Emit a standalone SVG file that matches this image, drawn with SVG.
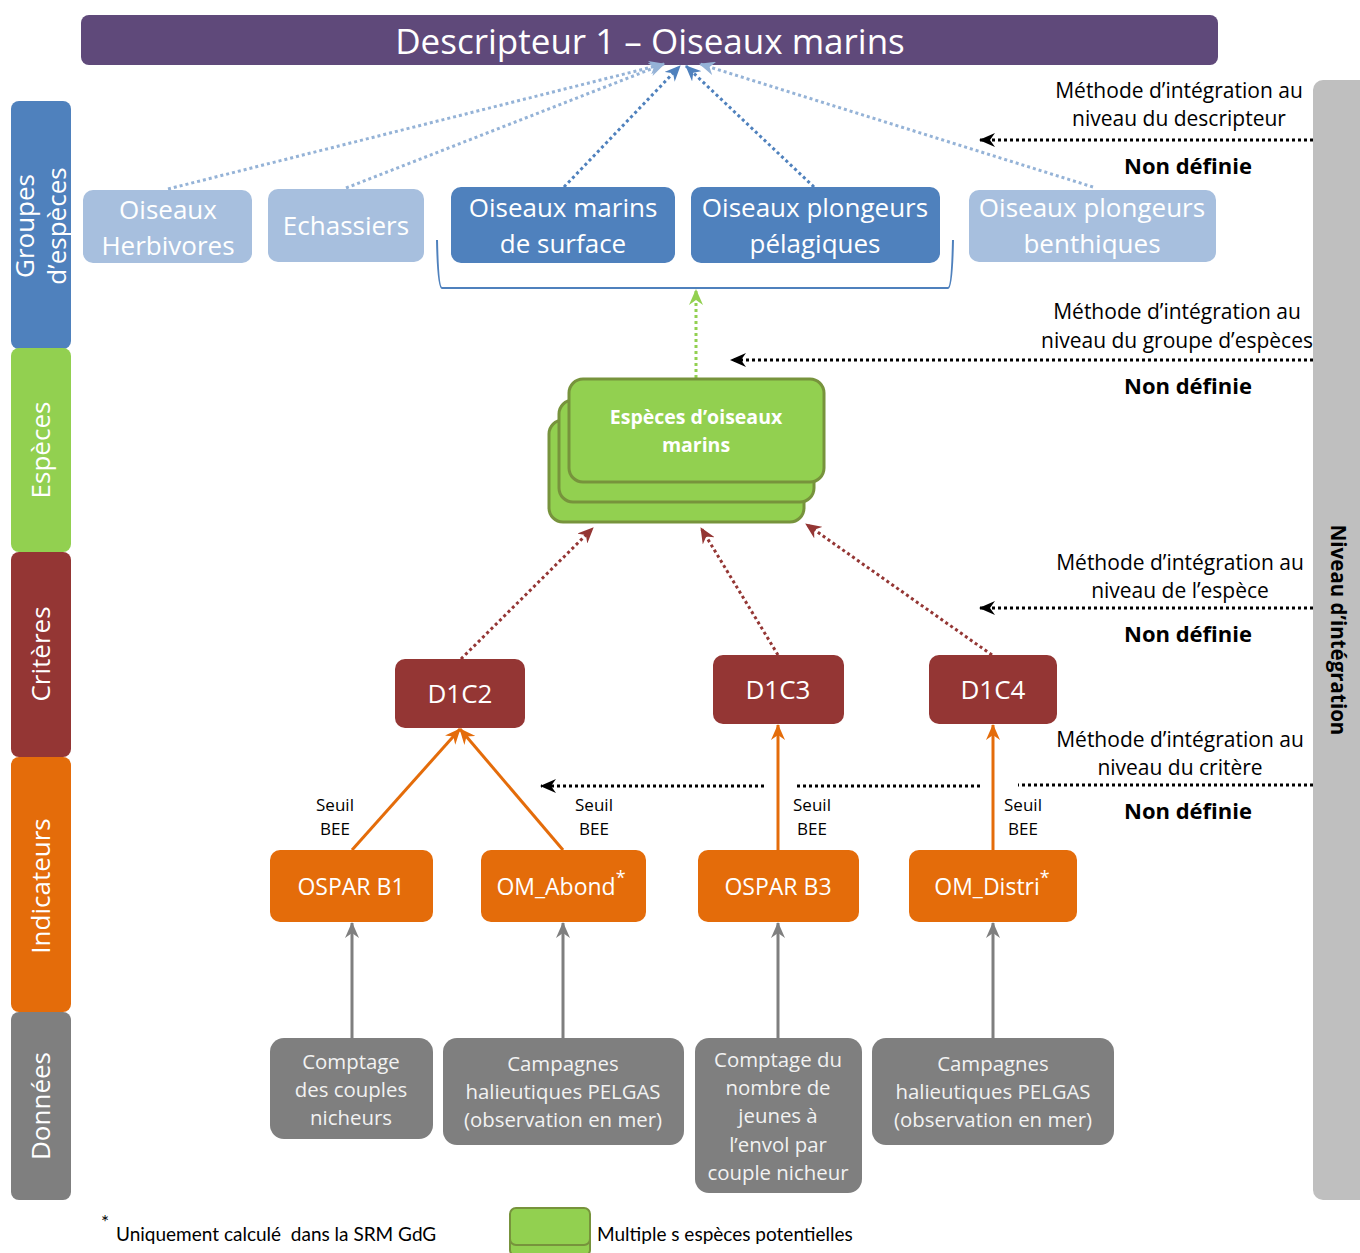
<svg xmlns="http://www.w3.org/2000/svg" width="1360" height="1253" viewBox="0 0 1360 1253">
<style>
text{font-family:"Open Sans","Noto Sans",sans-serif}
.w{fill:#fff}
.k{fill:#000}
.mid{text-anchor:middle}
.bar{font-size:26px;fill:#fff;text-anchor:middle}
.grp{font-size:26px;fill:#fff;text-anchor:middle}
.meth{font-size:21px;fill:#000;text-anchor:middle}
.nd{font-size:22px;font-weight:bold;fill:#000;text-anchor:middle}
.crit{font-size:26px;fill:#fff;text-anchor:middle}
.ind{font-size:23px;fill:#fff;text-anchor:middle}
.dat{font-size:20.4px;fill:#f2f2f2;text-anchor:middle}
.seuil{font-size:17px;fill:#000;text-anchor:middle}
.lg{font-family:Lato,"Open Sans",sans-serif;font-size:19px;fill:#000;white-space:pre}
.dot{fill:none;stroke-width:3;stroke-dasharray:3 3}
.bk{fill:none;stroke:#000;stroke-width:3;stroke-dasharray:3 3}
.sol{fill:none;stroke-width:3}
</style>
<defs>
<marker id="mLb" markerUnits="userSpaceOnUse" markerWidth="16" markerHeight="14" refX="15" refY="7" orient="auto"><path d="M0,0 L16,7 L0,14 L5,7 z" fill="#95B3D7"/></marker>
<marker id="mB" markerUnits="userSpaceOnUse" markerWidth="16" markerHeight="14" refX="15" refY="7" orient="auto"><path d="M0,0 L16,7 L0,14 L5,7 z" fill="#4F81BD"/></marker>
<marker id="mG" markerUnits="userSpaceOnUse" markerWidth="16" markerHeight="14" refX="15" refY="7" orient="auto"><path d="M0,0 L16,7 L0,14 L5,7 z" fill="#92D050"/></marker>
<marker id="mR" markerUnits="userSpaceOnUse" markerWidth="16" markerHeight="14" refX="15" refY="7" orient="auto"><path d="M0,0 L16,7 L0,14 L5,7 z" fill="#943634"/></marker>
<marker id="mO" markerUnits="userSpaceOnUse" markerWidth="16" markerHeight="14" refX="15" refY="7" orient="auto"><path d="M0,0 L16,7 L0,14 L5,7 z" fill="#E46C0A"/></marker>
<marker id="mGr" markerUnits="userSpaceOnUse" markerWidth="16" markerHeight="14" refX="15" refY="7" orient="auto"><path d="M0,0 L16,7 L0,14 L5,7 z" fill="#7F7F7F"/></marker>
<marker id="mK" markerUnits="userSpaceOnUse" markerWidth="16" markerHeight="14" refX="15" refY="7" orient="auto"><path d="M0,0 L16,7 L0,14 L5,7 z" fill="#000"/></marker>
</defs>

<!-- Title -->
<g id="title">
<rect x="81" y="15" width="1137" height="50" rx="8" fill="#5F497A"/>
<text x="650" y="54" class="w mid" font-size="35">Descripteur 1 – Oiseaux marins</text>
</g>

<!-- Left level bars -->
<g id="bar-groupes">
<rect x="11" y="101" width="60" height="248" rx="8" fill="#4F81BD"/>
<text class="bar" transform="translate(34,226) rotate(-90)">Groupes</text>
<text class="bar" transform="translate(66,226) rotate(-90)">d’espèces</text>
</g>
<g id="bar-especes">
<rect x="11" y="348" width="60" height="204" rx="8" fill="#92D050"/>
<text class="bar" transform="translate(50,450) rotate(-90)">Espèces</text>
</g>
<g id="bar-criteres">
<rect x="11" y="552" width="60" height="205" rx="8" fill="#943634"/>
<text class="bar" transform="translate(50,654) rotate(-90)">Critères</text>
</g>
<g id="bar-indicateurs">
<rect x="11" y="757" width="60" height="255" rx="8" fill="#E46C0A"/>
<text class="bar" transform="translate(50,886) rotate(-90)">Indicateurs</text>
</g>
<g id="bar-donnees">
<rect x="11" y="1012" width="60" height="188" rx="8" fill="#7F7F7F"/>
<text class="bar" transform="translate(50,1106) rotate(-90)">Données</text>
</g>

<!-- Right bar -->
<g id="bar-niveau">
<rect x="1313" y="80" width="60" height="1120" rx="10" fill="#BFBFBF"/>
<text transform="translate(1331,630) rotate(90)" font-family="Liberation Sans, Arial, sans-serif" font-size="20.5" font-weight="bold" text-anchor="middle" fill="#000">Niveau d’intégration</text>
</g>

<!-- Connectors -->
<g id="connectors">
<path class="dot" stroke="#95B3D7" d="M168,189 L664,64" marker-end="url(#mLb)"/>
<path class="dot" stroke="#95B3D7" d="M346,188 L664,64" marker-end="url(#mLb)"/>
<path class="dot" stroke="#4F81BD" d="M564,187 L680,66" marker-end="url(#mB)"/>
<path class="dot" stroke="#4F81BD" d="M814,187 L686,66" marker-end="url(#mB)"/>
<path class="dot" stroke="#95B3D7" d="M1093,187 L700,64" marker-end="url(#mLb)"/>
<path d="M437,240 Q438,288 442,288 L948,288 Q952,288 953,240" fill="none" stroke="#4F81BD" stroke-width="2"/>
<path class="dot" stroke="#92D050" d="M696,378 L696,290" marker-end="url(#mG)"/>
<path class="dot" stroke="#943634" d="M461,659 L593,528" marker-end="url(#mR)"/>
<path class="dot" stroke="#943634" d="M778,655 L701,528" marker-end="url(#mR)"/>
<path class="dot" stroke="#943634" d="M992,655 L806,524" marker-end="url(#mR)"/>
<path class="sol" stroke="#E46C0A" d="M352,850 L460,729" marker-end="url(#mO)"/>
<path class="sol" stroke="#E46C0A" d="M563,850 L460,729" marker-end="url(#mO)"/>
<path class="sol" stroke="#E46C0A" d="M778,850 L778,725" marker-end="url(#mO)"/>
<path class="sol" stroke="#E46C0A" d="M993,850 L993,725" marker-end="url(#mO)"/>
<path class="sol" stroke="#7F7F7F" d="M352,1038 L352,923" marker-end="url(#mGr)"/>
<path class="sol" stroke="#7F7F7F" d="M563,1038 L563,923" marker-end="url(#mGr)"/>
<path class="sol" stroke="#7F7F7F" d="M778,1038 L778,923" marker-end="url(#mGr)"/>
<path class="sol" stroke="#7F7F7F" d="M993,1038 L993,923" marker-end="url(#mGr)"/>
<path class="bk" d="M1313,140 L980,140" marker-end="url(#mK)"/>
<path class="bk" d="M1313,360 L731,360" marker-end="url(#mK)"/>
<path class="bk" d="M1313,608 L980,608" marker-end="url(#mK)"/>
<path class="bk" d="M1313,785 L1018,785"/>
<path class="bk" d="M980,786 L796,786"/>
<path class="bk" d="M764,786 L541,786" marker-end="url(#mK)"/>
</g>

<!-- Integration method texts -->
<g id="methode-descripteur">
<text class="meth" x="1179" y="98">Méthode d’intégration au</text>
<text class="meth" x="1179" y="126">niveau du descripteur</text>
<text class="nd" x="1188" y="174">Non définie</text>
</g>
<g id="methode-groupe">
<text class="meth" x="1177" y="319">Méthode d’intégration au</text>
<text class="meth" x="1177" y="348">niveau du groupe d’espèces</text>
<text class="nd" x="1188" y="394">Non définie</text>
</g>
<g id="methode-espece">
<text class="meth" x="1180" y="570">Méthode d’intégration au</text>
<text class="meth" x="1180" y="598">niveau de l’espèce</text>
<text class="nd" x="1188" y="642">Non définie</text>
</g>
<g id="methode-critere">
<text class="meth" x="1180" y="747">Méthode d’intégration au</text>
<text class="meth" x="1180" y="775">niveau du critère</text>
<text class="nd" x="1188" y="819">Non définie</text>
</g>

<!-- Species groups -->
<g id="g-herbivores">
<rect x="83" y="190" width="169" height="73" rx="10" fill="#A7BFDE"/>
<text class="grp" x="168" y="219">Oiseaux</text>
<text class="grp" x="168" y="255">Herbivores</text>
</g>
<g id="g-echassiers">
<rect x="268" y="189" width="156" height="73" rx="10" fill="#A7BFDE"/>
<text class="grp" x="346" y="235">Echassiers</text>
</g>
<g id="g-surface">
<rect x="451" y="187" width="224" height="76" rx="10" fill="#4F81BD"/>
<text class="grp" x="563" y="217">Oiseaux marins</text>
<text class="grp" x="563" y="253">de surface</text>
</g>
<g id="g-pelagiques">
<rect x="691" y="187" width="249" height="76" rx="10" fill="#4F81BD"/>
<text class="grp" x="815" y="217">Oiseaux plongeurs</text>
<text class="grp" x="815" y="253">pélagiques</text>
</g>
<g id="g-benthiques">
<rect x="969" y="190" width="247" height="72" rx="10" fill="#A7BFDE"/>
<text class="grp" x="1092" y="217">Oiseaux plongeurs</text>
<text class="grp" x="1092" y="253">benthiques</text>
</g>

<!-- Species -->
<g id="especes">
<rect x="549" y="420" width="255" height="102" rx="14" fill="#92D050" stroke="#77933C" stroke-width="3"/>
<rect x="559" y="400" width="255" height="102" rx="14" fill="#92D050" stroke="#77933C" stroke-width="3"/>
<rect x="569" y="379" width="255" height="103" rx="14" fill="#92D050" stroke="#77933C" stroke-width="3"/>
<text x="696" y="424" class="w mid" font-size="19.5" font-weight="bold">Espèces d’oiseaux</text>
<text x="696" y="452" class="w mid" font-size="19.5" font-weight="bold">marins</text>
</g>

<!-- Criteria -->
<g id="d1c2">
<rect x="395" y="659" width="130" height="69" rx="10" fill="#943634"/>
<text class="crit" x="460" y="703">D1C2</text>
</g>
<g id="d1c3">
<rect x="713" y="655" width="131" height="69" rx="10" fill="#943634"/>
<text class="crit" x="778" y="699">D1C3</text>
</g>
<g id="d1c4">
<rect x="929" y="655" width="128" height="69" rx="10" fill="#943634"/>
<text class="crit" x="993" y="699">D1C4</text>
</g>

<!-- Seuil labels -->
<g id="seuils">
<text class="seuil" x="335" y="811">Seuil</text><text class="seuil" x="335" y="835">BEE</text>
<text class="seuil" x="594" y="811">Seuil</text><text class="seuil" x="594" y="835">BEE</text>
<text class="seuil" x="812" y="811">Seuil</text><text class="seuil" x="812" y="835">BEE</text>
<text class="seuil" x="1023" y="811">Seuil</text><text class="seuil" x="1023" y="835">BEE</text>
</g>

<!-- Indicators -->
<g id="ospar-b1">
<rect x="270" y="850" width="163" height="72" rx="10" fill="#E46C0A"/>
<text class="ind" x="351" y="895">OSPAR B1</text>
</g>
<g id="om-abond">
<rect x="481" y="850" width="165" height="72" rx="10" fill="#E46C0A"/>
<text class="ind" x="561" y="895">OM_Abond<tspan font-size="18" dy="-11">*</tspan></text>
</g>
<g id="ospar-b3">
<rect x="698" y="850" width="161" height="72" rx="10" fill="#E46C0A"/>
<text class="ind" x="778" y="895">OSPAR B3</text>
</g>
<g id="om-distri">
<rect x="909" y="850" width="168" height="72" rx="10" fill="#E46C0A"/>
<text class="ind" x="992" y="895">OM_Distri<tspan font-size="18" dy="-11">*</tspan></text>
</g>

<!-- Data -->
<g id="data-comptage">
<rect x="270" y="1038" width="163" height="101" rx="14" fill="#7F7F7F"/>
<text class="dat" x="351" y="1069">Comptage</text>
<text class="dat" x="351" y="1097">des couples</text>
<text class="dat" x="351" y="1125">nicheurs</text>
</g>
<g id="data-pelgas1">
<rect x="443" y="1038" width="241" height="107" rx="14" fill="#7F7F7F"/>
<text class="dat" x="563" y="1071">Campagnes</text>
<text class="dat" x="563" y="1099">halieutiques PELGAS</text>
<text class="dat" x="563" y="1127">(observation en mer)</text>
</g>
<g id="data-jeunes">
<rect x="695" y="1038" width="167" height="155" rx="14" fill="#7F7F7F"/>
<text class="dat" x="778" y="1067">Comptage du</text>
<text class="dat" x="778" y="1095">nombre de</text>
<text class="dat" x="778" y="1123">jeunes à</text>
<text class="dat" x="778" y="1152">l’envol par</text>
<text class="dat" x="778" y="1180">couple nicheur</text>
</g>
<g id="data-pelgas2">
<rect x="872" y="1038" width="242" height="107" rx="14" fill="#7F7F7F"/>
<text class="dat" x="993" y="1071">Campagnes</text>
<text class="dat" x="993" y="1099">halieutiques PELGAS</text>
<text class="dat" x="993" y="1127">(observation en mer)</text>
</g>

<!-- Legend -->
<g id="legend">
<text class="lg" x="101" y="1229" font-size="17">*</text>
<text class="lg" x="116" y="1241" xml:space="preserve">Uniquement calculé  dans la SRM GdG</text>
<rect x="510" y="1212" width="80" height="44" rx="6" fill="#92D050" stroke="#77933C" stroke-width="2"/>
<rect x="510" y="1208" width="80" height="37" rx="6" fill="#92D050" stroke="#77933C" stroke-width="2"/>
<text class="lg" x="597" y="1241">Multiple s espèces potentielles</text>
</g>
</svg>
